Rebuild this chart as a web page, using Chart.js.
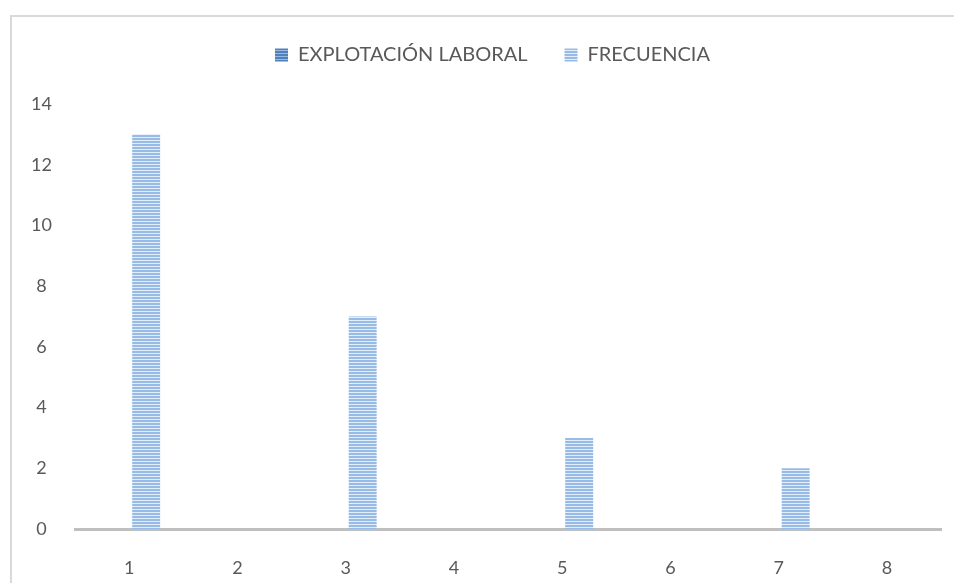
<!DOCTYPE html>
<html>
<head>
<meta charset="utf-8">
<script src="https://cdn.jsdelivr.net/npm/chart.js@4"></script>
<style>
  html, body { margin: 0; padding: 0; background: #fff; overflow: hidden; }
  #frame { position: absolute; left: 10px; top: 15px; width: 960px; height: 580px; border: 2px solid #d9d9d9; }
  #wrap { position: absolute; left: 0; top: 0; width: 954px; height: 583px; }
</style>
</head>
<body>
<div id="frame"></div>
<div id="wrap"><canvas id="myChart"></canvas></div>
<script>
// data
const categories = ["1", "2", "3", "4", "5", "6", "7", "8"]
const explotacionLaboral = [null, null, null, null, null, null, null, null]
const frecuencia = [13, null, 7, null, 3, null, 2, null]
const yTicks = [0, 2, 4, 6, 8, 10, 12, 14]

// striped fill like the excel pattern
function stripes(base, light) {
  const c = document.createElement("canvas")
  c.width = 4
  c.height = 3
  const ctx = c.getContext("2d")
  ctx.fillStyle = base
  ctx.fillRect(0, 0, 4, 3)
  ctx.fillStyle = light
  ctx.fillRect(0, 2, 4, 1)
  return ctx.createPattern(c, "repeat")
}

const textColor = "#595959"
Chart.defaults.font.family = "Lato, 'Liberation Sans', sans-serif"
Chart.defaults.font.size = 18
Chart.defaults.color = textColor

// legend takes a fixed band on top and sits a bit right of center
const legendBand = {
  id: "legendBand",
  beforeInit(chart) {
    const fit = chart.legend.fit
    chart.legend.fit = function () {
      fit.bind(chart.legend)()
      this.height = 96
    }
  },
  afterLayout(chart) {
    chart.legend.left += 22
    chart.legend.right += 22
  },
}

const data = {
  labels: categories,
  datasets: [
    {
      label: "EXPLOTACIÓN LABORAL",
      data: explotacionLaboral,
      backgroundColor: stripes("#4f81bd", "#9bb9de"),
      borderWidth: 0,
      categoryPercentage: 0.63,
      barPercentage: 0.82,
    },
    {
      label: "FRECUENCIA",
      data: frecuencia,
      backgroundColor: stripes("#98bbe6", "#e3edf9"),
      borderWidth: 0,
      categoryPercentage: 0.63,
      barPercentage: 0.82,
    },
  ],
}

const config = {
  type: "bar",
  data,
  plugins: [legendBand],
  options: {
    responsive: false,
    animation: false,
    layout: { padding: { left: 0, right: 13, top: 8, bottom: 0 } },
    plugins: {
      legend: {
        display: true,
        position: "top",
        labels: {
          boxWidth: 13,
          boxHeight: 13,
          padding: 37,
          color: textColor,
          font: { size: 20 },
        },
      },
      tooltip: { enabled: false },
    },
    scales: {
      x: {
        grid: { display: false, drawTicks: false },
        border: { display: true, color: "#bfbfbf", width: 3 },
        ticks: { padding: 28, color: textColor },
        afterFit: (scale) => { scale.height = 54 },
      },
      y: {
        min: 0,
        max: 14,
        afterBuildTicks: (scale) => { scale.ticks = yTicks.map(v => ({ value: v })) },
        grid: { display: false, drawTicks: false },
        border: { display: false },
        ticks: { padding: 23, color: textColor, crossAlign: "center" },
        afterFit: (scale) => { scale.width = 75 },
      },
    },
  },
}

const cv = document.getElementById("myChart")
cv.width = 954
cv.height = 583
const myChart = new Chart(cv, config)
</script>
</body>
</html>
